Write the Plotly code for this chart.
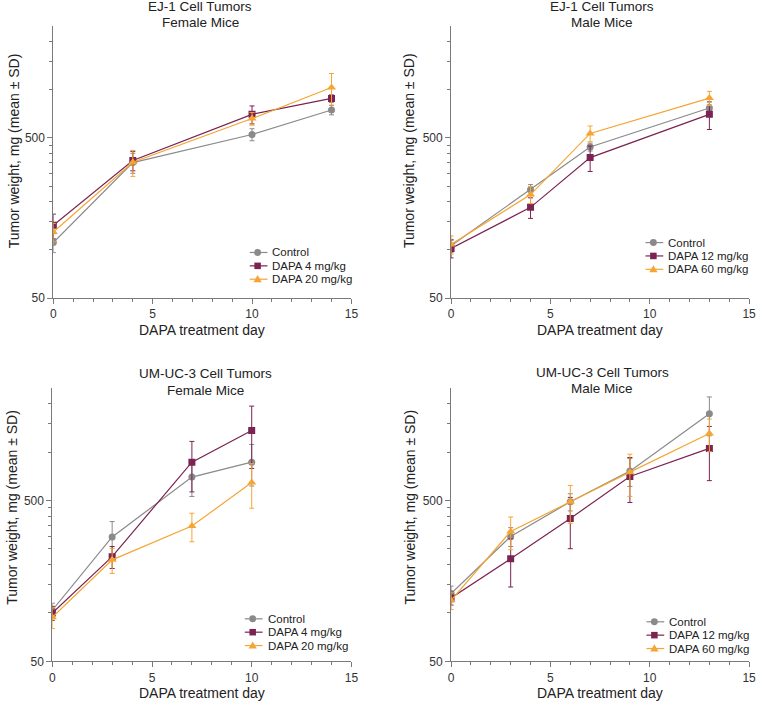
import plotly.graph_objects as go

# Días de medición por experimento
DAYS_EJ1_F = [0, 4, 10, 14]
DAYS_EJ1_M = [0, 4, 7, 13]
DAYS_UM_F = [0, 3, 7, 10]
DAYS_UM_M = [0, 3, 6, 9, 13]

# EJ-1, hembras
EJ1_F_CONTROL = [111, 350, 524, 745]
EJ1_F_CONTROL_SD = [15, 50, 45, 50]
EJ1_F_DAPA4 = [142, 361, 700, 880]
EJ1_F_DAPA4_SD = [25, 50, 90, 45]
EJ1_F_DAPA20 = [129, 352, 659, 1029]
EJ1_F_DAPA20_SD = [17, 65, 60, 230]

# EJ-1, machos
EJ1_M_CONTROL = [106, 237, 438, 767]
EJ1_M_CONTROL_SD = [10, 18, 25, 35]
EJ1_M_DAPA12 = [102, 184, 376, 700]
EJ1_M_DAPA12_SD = [13, 27, 68, 137]
EJ1_M_DAPA60 = [108, 221, 532, 884]
EJ1_M_DAPA60_SD = [14, 27, 60, 90]

# UM-UC-3, hembras
UM_F_CONTROL = [104, 297, 700, 866]
UM_F_CONTROL_SD = [11, 73, 170, 250]
UM_F_DAPA4 = [100, 224, 866, 1362]
UM_F_DAPA4_SD = [10, 35, 300, 570]
UM_F_DAPA20 = [94, 214, 347, 648]
UM_F_DAPA20_SD = [14, 38, 70, 200]

# UM-UC-3, machos
UM_M_CONTROL = [132, 299, 491, 762, 1733]
UM_M_CONTROL_SD = [15, 40, 60, 150, 470]
UM_M_DAPA12 = [124, 217, 387, 706, 1055]
UM_M_DAPA12_SD = [12, 72, 136, 220, 390]
UM_M_DAPA60 = [120, 321, 491, 751, 1306]
UM_M_DAPA60_SD = [15, 74, 130, 220, 300]

TITLES = [
    ["EJ-1 Cell Tumors", "Female Mice"],
    ["EJ-1 Cell Tumors", "Male Mice"],
    ["UM-UC-3 Cell Tumors", "Female Mice"],
    ["UM-UC-3 Cell Tumors", "Male Mice"],
]
X_TITLE = "DAPA treatment day"
Y_TITLE = "Tumor weight, mg (mean ± SD)"
Y_TICKS = [50, 500]
Y_MINOR = [100, 150, 200, 250, 300, 350, 400, 450, 1000, 1500, 2000]
X_TICKS = [0, 5, 10, 15]

GRIS = "#8a8a8a"
MORADO = "#7b2352"
NARANJA = "#f5a533"
EJE = "#7a7a7a"
TEXTO = "#222222"
FONT = "Liberation Sans, Arial, sans-serif"

W, H = 765, 708

paneles = [
    (DAYS_EJ1_F, [("Control", EJ1_F_CONTROL, EJ1_F_CONTROL_SD),
                  ("DAPA 4 mg/kg", EJ1_F_DAPA4, EJ1_F_DAPA4_SD),
                  ("DAPA 20 mg/kg", EJ1_F_DAPA20, EJ1_F_DAPA20_SD)]),
    (DAYS_EJ1_M, [("Control", EJ1_M_CONTROL, EJ1_M_CONTROL_SD),
                  ("DAPA 12 mg/kg", EJ1_M_DAPA12, EJ1_M_DAPA12_SD),
                  ("DAPA 60 mg/kg", EJ1_M_DAPA60, EJ1_M_DAPA60_SD)]),
    (DAYS_UM_F, [("Control", UM_F_CONTROL, UM_F_CONTROL_SD),
                 ("DAPA 4 mg/kg", UM_F_DAPA4, UM_F_DAPA4_SD),
                 ("DAPA 20 mg/kg", UM_F_DAPA20, UM_F_DAPA20_SD)]),
    (DAYS_UM_M, [("Control", UM_M_CONTROL, UM_M_CONTROL_SD),
                 ("DAPA 12 mg/kg", UM_M_DAPA12, UM_M_DAPA12_SD),
                 ("DAPA 60 mg/kg", UM_M_DAPA60, UM_M_DAPA60_SD)]),
]

estilos = [(GRIS, "circle", 7), (MORADO, "square", 7), (NARANJA, "triangle-up", 8)]

# Cajas de los ejes en píxeles: (izq, der, arriba, abajo)
cajas = [(51, 353, 26, 301), (454, 756, 26, 301),
         (50, 353, 392, 668), (454, 756, 392, 668)]
# Leyenda dibujada a mano: (inicio línea x, primera fila y)
leyendas = [(250, 255), (651, 245), (245, 625), (652, 628)]
FILA = 13.5
# Títulos: centro x, y de cada línea
titulos_pos = [(200, (7, 23)), (607, (7, 23)), (205, (377, 394)), (607, (376, 392))]
ytitulo_pos = [(12, 152), (412, 152), (9, 512), (412, 512)]
xtitulo_y = [333, 333, 700, 700]


def px(x):
    return x / W


def py(y):
    return 1 - y / H


fig = go.Figure()
layout = dict(
    width=W, height=H,
    margin=dict(l=0, r=0, t=0, b=0),
    paper_bgcolor="white", plot_bgcolor="white",
    font=dict(family=FONT, size=12, color="#333333"),
    showlegend=False,
    annotations=[], shapes=[],
)

for i, (dias, series) in enumerate(paneles):
    n = "" if i == 0 else str(i + 1)
    for (nombre, valores, sd), (color, simbolo, tam) in zip(series, estilos):
        fig.add_trace(go.Scatter(
            x=dias, y=valores,
            mode="lines+markers",
            name=nombre,
            line=dict(color=color, width=1.2),
            marker=dict(color=color, symbol=simbolo, size=tam),
            error_y=dict(type="data", array=sd, color=color,
                         thickness=1, width=2.5),
            xaxis="x" + n, yaxis="y" + n,
        ))

    izq, der, arr, aba = cajas[i]
    layout["xaxis" + n] = dict(
        domain=[px(izq), px(der)], anchor="y" + n,
        range=[0, 15], tickvals=X_TICKS,
        showline=True, linecolor=EJE, linewidth=1,
        ticks="outside", ticklen=5, tickcolor=EJE,
        minor=dict(ticks="outside", ticklen=3, dtick=1, tickcolor=EJE),
        showgrid=False, zeroline=False, ticklabeloverflow="allow",
        tickfont=dict(size=12, color="#333333"),
    )
    layout["yaxis" + n] = dict(
        domain=[py(aba), py(arr)], anchor="x" + n,
        type="log", range=[1.69897, 3.39794],
        tickvals=Y_TICKS, ticktext=[str(v) for v in Y_TICKS],
        showline=True, linecolor=EJE, linewidth=1,
        ticks="outside", ticklen=5, tickcolor=EJE,
        minor=dict(ticks="outside", ticklen=3, tickvals=Y_MINOR, tickcolor=EJE),
        showgrid=False, zeroline=False,
        tickfont=dict(size=12, color="#333333"),
    )

    # Leyenda: línea corta, marcador y texto
    lx, ly = leyendas[i]
    for k, ((nombre, _, _), (color, simbolo, tam)) in enumerate(zip(series, estilos)):
        y = ly + FILA * k
        mx = lx + 8
        layout["shapes"].append(dict(
            type="line", xref="paper", yref="paper",
            x0=px(lx), x1=px(lx + 18), y0=py(y), y1=py(y),
            line=dict(color=color, width=1.2),
        ))
        if simbolo == "circle":
            layout["shapes"].append(dict(
                type="circle", xref="paper", yref="paper",
                x0=px(mx - 3.5), x1=px(mx + 3.5), y0=py(y + 3.5), y1=py(y - 3.5),
                fillcolor=color, line=dict(width=0),
            ))
        elif simbolo == "square":
            layout["shapes"].append(dict(
                type="rect", xref="paper", yref="paper",
                x0=px(mx - 3.3), x1=px(mx + 3.3), y0=py(y + 3.3), y1=py(y - 3.3),
                fillcolor=color, line=dict(width=0),
            ))
        else:
            ruta = "M {:.5f} {:.5f} L {:.5f} {:.5f} L {:.5f} {:.5f} Z".format(
                px(mx - 4.2), py(y + 3), px(mx + 4.2), py(y + 3), px(mx), py(y - 4.2))
            layout["shapes"].append(dict(
                type="path", xref="paper", yref="paper", path=ruta,
                fillcolor=color, line=dict(width=0),
            ))
        layout["annotations"].append(dict(
            text=nombre, x=px(lx + 21), y=py(y), xref="paper", yref="paper",
            showarrow=False, xanchor="left", yanchor="middle",
            font=dict(size=11.5, color=TEXTO),
        ))

    tx, (ty1, ty2) = titulos_pos[i]
    for linea, ty in zip(TITLES[i], (ty1, ty2)):
        layout["annotations"].append(dict(
            text=linea, x=px(tx), y=py(ty), xref="paper", yref="paper",
            showarrow=False, xanchor="center", yanchor="middle",
            font=dict(size=13.5, color=TEXTO),
        ))
    yx, yy = ytitulo_pos[i]
    layout["annotations"].append(dict(
        text=Y_TITLE, x=px(yx), y=py(yy), xref="paper", yref="paper",
        showarrow=False, textangle=-90, xanchor="center", yanchor="middle",
        font=dict(size=14, color=TEXTO),
    ))
    layout["annotations"].append(dict(
        text=X_TITLE, x=px((izq + der) / 2), y=py(xtitulo_y[i]),
        xref="paper", yref="paper", showarrow=False,
        xanchor="center", yanchor="middle",
        font=dict(size=14, color=TEXTO),
    ))

fig.update_layout(**layout)
fig.write_html("out.html", config={"displayModeBar": False},
               post_script="document.body.style.margin='0';")
